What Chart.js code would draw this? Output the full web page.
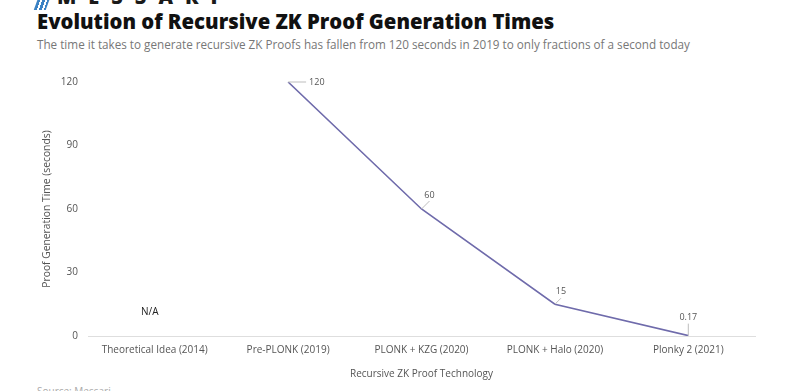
<!DOCTYPE html>
<html>
<head>
<meta charset="utf-8">
<script src="https://cdn.jsdelivr.net/npm/chart.js@4.4.1/dist/chart.umd.min.js"></script>
<style>
  html,body{margin:0;padding:0;background:#fff;width:800px;height:391px;overflow:hidden;font-family:"Open Sans",sans-serif;}
  #wrap{position:absolute;left:0;top:0;width:800px;height:391px;}
  #logo{position:absolute;left:37px;top:-17px;font-family:"Open Sans",sans-serif;font-weight:800;font-size:20px;letter-spacing:12px;color:#1a1a1a;white-space:nowrap;}
  #logo span.icon{display:inline-block;width:12px;height:18px;background:linear-gradient(90deg,#3b82c4 0 3px,transparent 3px 5px,#3b82c4 5px 8px,transparent 8px 10px,#3b82c4 10px 12px);transform:skewX(-20deg);margin-right:8px;vertical-align:bottom;}
  #title{position:absolute;left:37px;top:7px;font-family:"Open Sans",sans-serif;font-weight:800;font-size:20.3px;color:#111;white-space:nowrap;}
  #sub{position:absolute;left:37px;top:36px;font-family:"Open Sans",sans-serif;font-size:11.7px;color:#777;white-space:nowrap;}
  #src{position:absolute;left:37px;top:384px;font-size:10px;color:#aaa;white-space:nowrap;}
  canvas{position:absolute;left:0;top:0;}
</style>
</head>
<body>
<div id="wrap">
  <div id="logo"><span class="icon"></span>MESSARI</div>
  <div id="title">Evolution of Recursive ZK Proof Generation Times</div>
  <div id="sub">The time it takes to generate recursive ZK Proofs has fallen from 120 seconds in 2019 to only fractions of a second today</div>
  <div id="src">Source: Messari</div>
  <canvas id="c" width="800" height="391"></canvas>
</div>
<script>
const categories = ["Theoretical Idea (2014)", "Pre-PLONK (2019)", "PLONK + KZG (2020)", "PLONK + Halo (2020)", "Plonky 2 (2021)"];
const proofTimes = [null, 120, 60, 15, 0.17];
const valueLabels = ["N/A", "120", "60", "15", "0.17"];
const yTicks = [0, 30, 60, 90, 120];

// label placement: [leader dx, leader dy, text dx, text dy, align]
const labelPlacement = [
  [0, 0, -5, -24, "center"],
  [18, 0, 21, 0, "left"],
  [8, -8, 8, -14, "center"],
  [6, -6, 6, -13, "center"],
  [0, -12, 0, -18, "center"]
];

const labelPlugin = {
  id: "leaderLabels",
  afterDatasetsDraw(chart) {
    const ctx = chart.ctx;
    const xs = chart.scales.x, ys = chart.scales.y;
    ctx.save();
    ctx.textBaseline = "middle";
    categories.forEach((c, i) => {
      const v = proofTimes[i];
      const p = labelPlacement[i];
      const x = xs.getPixelForValue(i);
      if (v === null) {
        ctx.fillStyle = "#222";
        ctx.font = "10px 'Open Sans', sans-serif";
        ctx.textAlign = "center";
        ctx.fillText(valueLabels[i], x + p[2], ys.getPixelForValue(0) + p[3]);
        return;
      }
      ctx.font = "9px 'Open Sans', sans-serif";
      const y = ys.getPixelForValue(v);
      ctx.strokeStyle = "#bdbdbd";
      ctx.lineWidth = 1;
      ctx.beginPath();
      ctx.moveTo(x, y);
      ctx.lineTo(x + p[0], y + p[1]);
      ctx.stroke();
      ctx.fillStyle = "#555";
      ctx.textAlign = p[4];
      ctx.fillText(valueLabels[i], x + p[2], y + p[3]);
    });
    ctx.restore();
  }
};

new Chart(document.getElementById("c"), {
  type: "line",
  data: {
    labels: categories,
    datasets: [{
      data: proofTimes,
      borderColor: "#6f6bab",
      borderWidth: 1.6,
      pointRadius: 0,
      tension: 0,
      spanGaps: false
    }]
  },
  options: {
    responsive: false,
    animation: false,
    layout: { padding: { left: 41, right: 45, top: 82, bottom: 11 } },
    plugins: { legend: { display: false }, tooltip: { enabled: false } },
    scales: {
      x: {
        offset: true,
        grid: { display: false, drawTicks: false },
        border: { color: "#dedede", width: 1 },
        ticks: { color: "#555", font: { family: "'Open Sans', sans-serif", size: 10 }, padding: 8, maxRotation: 0 },
        title: { display: true, text: "Recursive ZK Proof Technology", color: "#555", font: { family: "'Open Sans', sans-serif", size: 10 }, padding: { top: 4, bottom: 0 } }
      },
      y: {
        min: 0, max: 120,
        afterBuildTicks(scale) { scale.ticks = yTicks.map(v => ({ value: v })); },
        afterFit(scale) { scale.width = 47; },
        grid: { display: false, drawTicks: false },
        border: { display: false },
        ticks: { color: "#555", font: { family: "'Open Sans', sans-serif", size: 10 }, padding: 10 },
        title: { display: true, text: "Proof Generation Time (seconds)", color: "#555", font: { family: "'Open Sans', sans-serif", size: 10.3 }, padding: 0 }
      }
    }
  },
  plugins: [labelPlugin]
});
</script>
</body>
</html>
